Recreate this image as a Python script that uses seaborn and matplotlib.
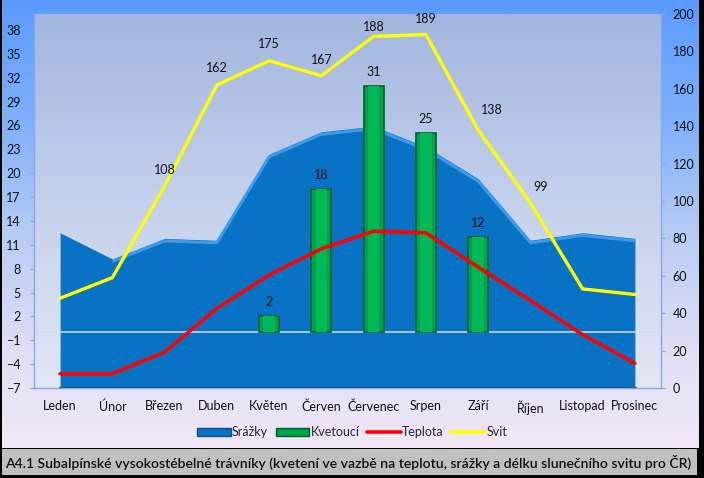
import numpy as np
import pandas as pd
import matplotlib
matplotlib.use("Agg")
import matplotlib.pyplot as plt
import matplotlib.transforms as mtransforms
import seaborn as sns
from matplotlib.patches import Patch, Rectangle
from matplotlib.lines import Line2D
from matplotlib.colors import LinearSegmentedColormap

# ---------------- data ----------------
months = ["Leden", "Únor", "Březen", "Duben", "Květen", "Červen", "Červenec",
          "Srpen", "Září", "Říjen", "Listopad", "Prosinec"]
srazky = [83, 69, 80, 79, 125, 137, 140, 129, 112, 79, 83, 80]          # right axis
kvetouci = [0, 0, 0, 0, 2, 18, 31, 25, 12, 0, 0, 0]                     # left axis
teplota = [-5.2, -5.2, -2.5, 3.0, 7.2, 10.5, 12.7, 12.5, 8.2, 4.0, -0.3, -3.9]  # left axis
svit = [48, 59, 108, 162, 175, 167, 188, 189, 138, 99, 53, 50]          # right axis
svit_labeled = ["Březen", "Duben", "Květen", "Červen", "Červenec", "Srpen", "Září", "Říjen"]
left_ticks = list(range(-7, 39, 3))
right_ticks = list(range(0, 201, 20))
legend_labels = ["Srážky", "Kvetoucí", "Teplota", "Svit"]
title = ("A4.1 Subalpínské vysokostébelné trávníky (kvetení ve vazbě na teplotu, "
         "srážky a délku slunečního svitu pro ČR)")

# label offsets in pixels (style only)
svit_label_offsets = {"Březen": (0, 16), "Duben": (0, 17), "Květen": (0, 17), "Červen": (0, 16),
                      "Červenec": (0, 9), "Srpen": (0, 16), "Září": (14, 20), "Říjen": (10, 16)}

df = pd.DataFrame({"month": months, "pos": np.arange(len(months)), "srazky": srazky,
                   "kvetouci": kvetouci, "teplota": teplota, "svit": svit})
df["kv_bar"] = df["kvetouci"].where(df["kvetouci"] > 0)

sns.set_theme(style="white")
plt.rcParams['font.family'] = ['Lato', 'DejaVu Sans']

W, H = 704, 478
fig = plt.figure(figsize=(W / 100, H / 100), dpi=100)

# ---------------- figure background ----------------
bg = fig.add_axes([0, 0, 1, 1], zorder=-10)
grad = np.linspace(0, 1, 256).reshape(-1, 1)
cmap_bg = LinearSegmentedColormap.from_list(
    'bg', ['#5A9AFF', '#7FB0FB', '#B9CDF3', '#E2E0F5', '#F5E8F6'])
bg.imshow(grad, aspect='auto', cmap=cmap_bg, extent=[0, 1, 0, 1], origin='upper')
bg.set_xlim(0, 1); bg.set_ylim(0, 1); bg.axis('off')
# title strip
bg.add_patch(Rectangle((0, 0), 1, 30 / H, facecolor='black', lw=0))
bg.add_patch(Rectangle((2 / W, 3 / H), 695 / W, 26 / H, facecolor='#C0C0C0', lw=0))
# frame edges
bg.add_patch(Rectangle((0, 0), 1.5 / W, 1, facecolor='black', lw=0))
bg.add_patch(Rectangle((699 / W, 0), 5 / W, 1, facecolor='black', lw=0))
fig.text(5 / W, 1 - 462 / H, title, ha='left', va='center', fontsize=10.1,
         color='#111111', fontweight='semibold')

# ---------------- axes ----------------
ax = fig.add_axes([34 / W, 1 - 388 / H, 627 / W, 374 / H])
ax2 = ax.twinx()
ax.set_zorder(2); ax2.set_zorder(1)
ax.patch.set_visible(False)
ax2.patch.set_visible(False)

# plot area gradient
cmap_pa = LinearSegmentedColormap.from_list('pa', ['#A2B6DF', '#C4D1EC', '#E2E7F4'])
ax2.imshow(grad, aspect='auto', cmap=cmap_pa, extent=[0, 1, 0, 1], origin='upper',
           transform=ax2.transAxes, zorder=0)

# area (Srážky) on right axis
ax2.fill_between(df["pos"], df["srazky"], 0, color='#0872C4', lw=0, zorder=1)
off = mtransforms.offset_copy(ax2.transData, fig=fig, x=0, y=-2.5, units='dots')
ax2.plot(df["pos"][1:], df["srazky"][1:], color='#3B9BEA', lw=2.2, zorder=1.5,
         transform=off, solid_capstyle='butt')
ax2.plot(df["pos"], [0] * len(df), color='#0A4F8A', lw=2.5, zorder=1.6)

# Svit line on right axis
sns.lineplot(data=df, x="pos", y="svit", ax=ax2, color='#FFFF00', lw=2.4, zorder=3,
             legend=False)
for m, s, p in zip(months, svit, df["pos"]):
    if m in svit_labeled:
        dx, dy = svit_label_offsets[m]
        ax2.annotate(str(s), (p, s), xytext=(dx * 0.72, dy * 0.72), textcoords='offset points',
                     ha='center', va='center', fontsize=9, color='#111111', zorder=5)

# zero line
ax.axhline(0, color='#D3DCF0', lw=1.1, zorder=1)

# Kvetoucí bars on left axis
sns.barplot(data=df, x="month", y="kv_bar", ax=ax, color='#00A24A', width=0.38,
            saturation=1, edgecolor='#005E2A', linewidth=1.2, zorder=2)
sns.barplot(data=df, x="month", y="kv_bar", ax=ax, color='#00B856', width=0.22,
            saturation=1, linewidth=0, zorder=2.1)
for m, k, p in zip(months, kvetouci, df["pos"]):
    if k > 0:
        ax.annotate(str(k), (p, k), xytext=(0, 10), textcoords='offset points',
                    ha='center', va='center', fontsize=9, color='#111111', zorder=5)

# Teplota line on left axis
sns.lineplot(data=df, x="pos", y="teplota", ax=ax, color='#FF0000', lw=2.6, zorder=4,
             legend=False)

# ---------------- axes styling ----------------
ax.set_xlim(-0.5, len(months) - 0.5)
ax.set_ylim(-7, 40)
ax2.set_ylim(0, 200)
ax.set_yticks(left_ticks)
ax2.set_yticks(right_ticks)
ax.set_xticks(df["pos"])
ax.set_xticklabels(months)
ax.set_xlabel(""); ax.set_ylabel(""); ax2.set_ylabel("")
spine_c = '#86A9EE'
for a in (ax, ax2):
    for s in a.spines.values():
        s.set_visible(False)
ax.spines['left'].set_visible(True); ax.spines['left'].set_color(spine_c)
ax.spines['bottom'].set_visible(True); ax.spines['bottom'].set_color(spine_c)
ax2.spines['right'].set_visible(True); ax2.spines['right'].set_color(spine_c)
for sp in (ax.spines['left'], ax.spines['bottom'], ax2.spines['right']):
    sp.set_linewidth(1.0)
ax.tick_params(axis='y', left=True, length=3, width=1, color=spine_c, pad=6.5,
               labelsize=9, labelcolor='#111111')
ax.tick_params(axis='x', length=0, pad=9, labelsize=9, labelcolor='#111111')
ax2.tick_params(axis='y', right=True, length=3, width=1, color=spine_c, pad=5.5,
                labelsize=9, labelcolor='#111111')
ax.grid(False); ax2.grid(False)

# ---------------- legend ----------------
handles = [Patch(facecolor='#0872C4', edgecolor='#0A4F8A', lw=1),
           Patch(facecolor='#00A24A', edgecolor='#005E2A', lw=1),
           Line2D([], [], color='#FF0000', lw=2.6),
           Line2D([], [], color='#FFFF00', lw=2.6)]
fig.legend(handles, legend_labels, loc='center', bbox_to_anchor=(352 / W, 1 - 432 / H),
           ncol=4, frameon=False, fontsize=9, handlelength=2.7, handleheight=0.6,
           handletextpad=0.1, columnspacing=0.6)

fig.savefig("out.png", dpi=100)
